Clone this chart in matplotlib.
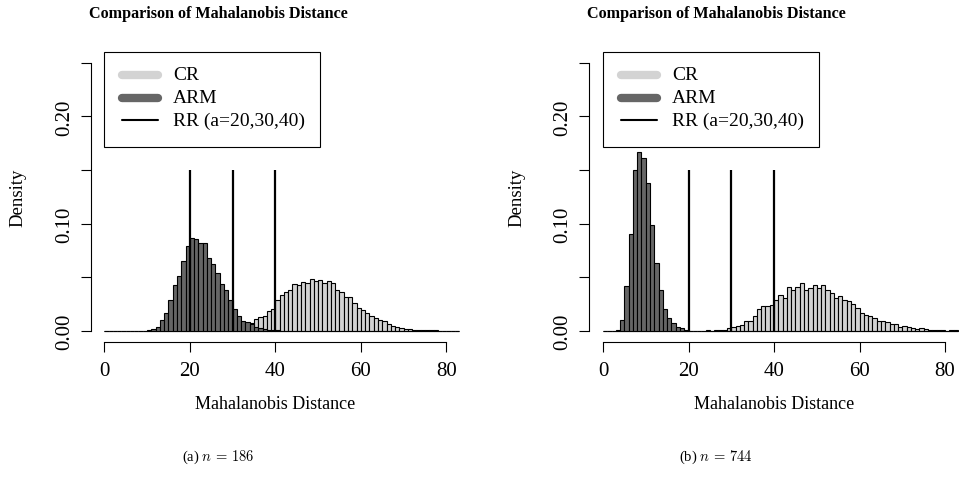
import numpy as np
import matplotlib.pyplot as plt
from matplotlib.lines import Line2D
from matplotlib.patches import Rectangle

# histogram densities, one value per unit bin [k, k+1), k = 0..82
cr_186 = [0, 0, 0, 0, 0, 0, 0, 0, 0, 0,
          0, 0, 0, 0, 0, 0, 0, 0, 0, 0,
          0, 0, 0, 0.0002, 0.0003, 0.0005, 0.0008, 0.0012, 0.0018, 0.0025,
          0.0032, 0.004, 0.005, 0.006, 0.0075, 0.0106, 0.0128, 0.0143, 0.0184, 0.0205,
          0.0286, 0.0336, 0.036, 0.0382, 0.0436, 0.0426, 0.046, 0.0446, 0.0479, 0.0468,
          0.047, 0.0445, 0.0466, 0.0448, 0.0382, 0.0363, 0.0317, 0.0312, 0.0255, 0.0211,
          0.0195, 0.0166, 0.0143, 0.0122, 0.0098, 0.0096, 0.0064, 0.0048, 0.0038, 0.0028,
          0.0017, 0.0017, 0.0012, 0.001, 0.0007, 0.0005, 0.0005, 0.0004, 0.0003, 0.0003,
          0.0002, 0.0002, 0.0001]
arm_186 = [0, 0, 0, 0, 0, 0, 0, 0, 0, 0.0003,
           0.0008, 0.002, 0.004, 0.010, 0.0165, 0.029, 0.043, 0.051, 0.065, 0.079,
           0.087, 0.086, 0.082, 0.082, 0.068, 0.062, 0.054, 0.044, 0.038, 0.029,
           0.020, 0.0137, 0.0096, 0.0083, 0.0065, 0.0035, 0.0025, 0.0018, 0.0012, 0.0007,
           0.0004, 0.0002, 0.0001, 0, 0, 0, 0, 0, 0, 0,
           0, 0, 0, 0, 0, 0, 0, 0, 0, 0,
           0, 0, 0, 0, 0, 0, 0, 0, 0, 0,
           0, 0, 0, 0, 0, 0, 0, 0, 0, 0,
           0, 0, 0]
cr_744 = [0, 0, 0, 0, 0, 0, 0, 0, 0, 0,
          0, 0, 0, 0, 0, 0, 0, 0, 0, 0,
          0.0002, 0.0003, 0.0003, 0.0002, 0.0005, 0.0003, 0.0008, 0.0008, 0.0012, 0.003,
          0.0034, 0.0044, 0.0059, 0.0096, 0.0096, 0.0143, 0.020, 0.0236, 0.0236, 0.0243,
          0.029, 0.033, 0.031, 0.0407, 0.0385, 0.0407, 0.0445, 0.0385, 0.0398, 0.0423,
          0.0398, 0.0424, 0.0378, 0.035, 0.0306, 0.0326, 0.029, 0.028, 0.025, 0.021,
          0.0165, 0.015, 0.0135, 0.012, 0.0091, 0.0088, 0.008, 0.0068, 0.0062, 0.0034,
          0.0045, 0.004, 0.0025, 0.0015, 0.0025, 0.0016, 0.0012, 0.001, 0.0005, 0.0004,
          0.0003, 0.0005, 0.001]
arm_744 = [0, 0, 0, 0.0012, 0.0105, 0.0414, 0.0905, 0.1496, 0.1667, 0.161,
           0.1377, 0.0983, 0.063, 0.038, 0.0207, 0.012, 0.0075, 0.0039, 0.0022, 0.0011,
           0.0003, 0.0002, 0, 0, 0, 0, 0, 0, 0, 0,
           0, 0, 0, 0, 0, 0, 0, 0, 0, 0,
           0, 0, 0, 0, 0, 0, 0, 0, 0, 0,
           0, 0, 0, 0, 0, 0, 0, 0, 0, 0,
           0, 0, 0, 0, 0, 0, 0, 0, 0, 0,
           0, 0, 0, 0, 0, 0, 0, 0, 0, 0,
           0, 0, 0]
rr_a = [20, 30, 40]
edges = np.arange(0, 84)

W, H = 980, 481


def fx(x):
    return x / W


def fy(y):
    return 1 - y / H


plt.rcParams['font.family'] = 'Liberation Serif'
plt.rcParams['mathtext.fontset'] = 'cm'

fig = plt.figure(figsize=(9.8, 4.81), dpi=100)

# left edge of plot region in px, centre of subfigure, caption
panels = [(cr_186, arm_186, 90.6, 218, r'(a) $n\,=\,186$'),
          (cr_744, arm_744, 589.3, 716, r'(b) $n\,=\,744$')]

for cr, arm, x0, xc, cap in panels:
    ax = fig.add_axes([fx(x0), fy(343), fx(369.5), 290 / H])
    ax.bar(edges[:-1], cr, width=1, align='edge', color='#D3D3D3',
           edgecolor='black', linewidth=0.8)
    ax.bar(edges[:-1], arm, width=1, align='edge', color='#666666',
           edgecolor='black', linewidth=0.8)
    ax.vlines(rr_a, 0, 0.15, color='black', lw=1.6)

    ax.set_xlim(-3.2, 83.2)
    ax.set_ylim(-0.0104, 0.26)
    for s in ['top', 'right']:
        ax.spines[s].set_visible(False)
    ax.spines['left'].set_bounds(0, 0.25)
    ax.spines['bottom'].set_bounds(0, 80)
    ax.set_xticks([0, 20, 40, 60, 80])
    ax.set_yticks([0, 0.05, 0.10, 0.15, 0.20, 0.25])
    ax.set_yticklabels(['0.00', '', '0.10', '', '0.20', ''], rotation=90, va='center')
    ax.tick_params(direction='out', length=7, width=0.8, labelsize=15, pad=5)
    ax.tick_params(axis='x', pad=7)

    fig.text(fx(x0 + 184.7), fy(405), 'Mahalanobis Distance', fontsize=13,
             ha='center', va='center')
    fig.text(fx(x0 - 72.6), fy(198), 'Density', fontsize=13.5, rotation=90,
             ha='center', va='center')

    fig.text(fx(xc), fy(14.5), 'Comparison of Mahalanobis Distance', fontsize=11.6,
             fontweight='bold', ha='center', va='center')
    fig.text(fx(xc), fy(457), cap, fontsize=10.5, ha='center', va='center')

    # legend box drawn like R's legend()
    lx = x0 + 13.7
    fig.add_artist(Rectangle((fx(lx), fy(148)), fx(216), 95 / H, transform=fig.transFigure,
                             facecolor='white', edgecolor='black', lw=0.8))
    items = [('CR', '#D3D3D3', 6), ('ARM', '#666666', 6), ('RR (a=20,30,40)', 'black', 1.5)]
    for i, (lab, col, lw) in enumerate(items):
        yy = 76 + 22.5 * i
        fig.add_artist(Line2D([fx(lx + 18), fx(lx + 54)], [fy(yy), fy(yy)],
                              transform=fig.transFigure, color=col, lw=lw,
                              solid_capstyle='round'))
        fig.text(fx(lx + 69), fy(yy), lab, fontsize=14, ha='left', va='center')

fig.savefig('out.png', dpi=100)
